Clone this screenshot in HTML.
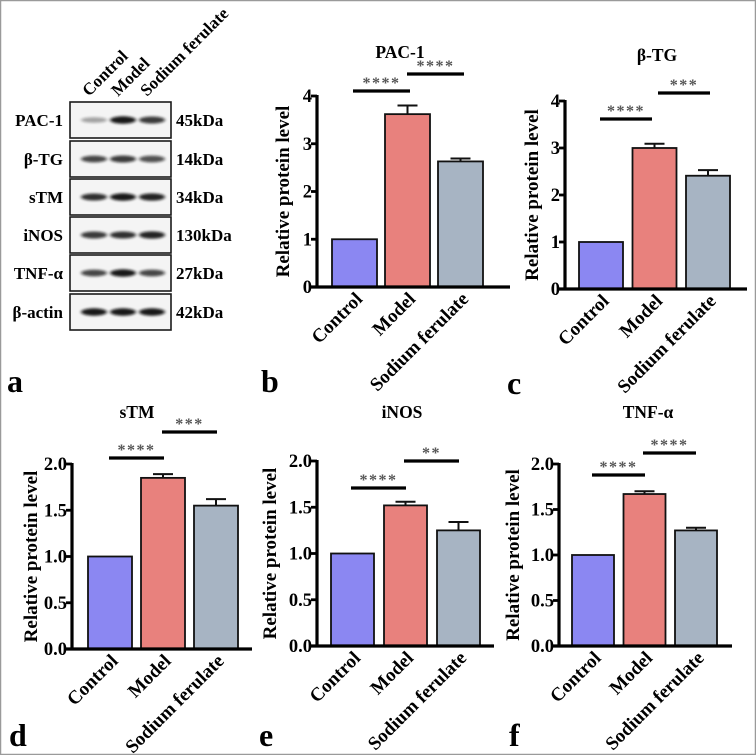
<!DOCTYPE html>
<html><head><meta charset="utf-8">
<style>
html,body{margin:0;padding:0;background:#fff;}
svg{display:block;}
text{font-family:"Liberation Serif",serif;font-weight:bold;}
</style></head>
<body>
<svg id="fig" width="756" height="755" viewBox="0 0 756 755" xmlns="http://www.w3.org/2000/svg">
<defs><filter id="blur" x="-20%" y="-100%" width="140%" height="300%"><feGaussianBlur stdDeviation="1.6 1.2"/></filter></defs>
<rect x="0.5" y="0.5" width="755" height="754" fill="#fff" stroke="#9a9a9a" stroke-width="1.5"/>
<g id="blot"></g>
<g id="charts"></g>
</svg>
<script>
const categories = ["Control","Model","Sodium ferulate"];
const blotProteins = ["PAC-1","β-TG","sTM","iNOS","TNF-α","β-actin"];
const blotSizes = ["45kDa","14kDa","34kDa","130kDa","27kDa","42kDa"];
const blotIntensity = [[0.35,0.95,0.8],[0.75,0.8,0.7],[0.85,0.95,0.9],[0.8,0.85,0.9],[0.75,0.95,0.75],[0.95,0.95,0.95]];
const titles = ["PAC-1","β-TG","sTM","iNOS","TNF-α"];
const valuesB = [1,3.62,2.63], errorsB = [0,0.18,0.06];
const valuesC = [1,3.0,2.41], errorsC = [0,0.09,0.12];
const valuesD = [1,1.85,1.55], errorsD = [0,0.04,0.07];
const valuesE = [1,1.52,1.25], errorsE = [0,0.04,0.09];
const valuesF = [1,1.67,1.27], errorsF = [0,0.03,0.03];
const ticks4 = [0,1,2,3,4];
const tickLabels4 = ["0","1","2","3","4"];
const ticks2 = [0,0.5,1,1.5,2];
const tickLabels2 = ["0.0","0.5","1.0","1.5","2.0"];
const sigB = ["****","****"], sigC = ["****","***"], sigD = ["****","***"], sigE = ["****","**"], sigF = ["****","****"];
const colors = ["#8b87f2","#e8817d","#a7b4c3"];

const NS = "http://www.w3.org/2000/svg";
function el(tag, attrs, parent, txt){
  const e = document.createElementNS(NS, tag);
  for (const k in attrs) e.setAttribute(k, attrs[k]);
  if (txt !== undefined) e.textContent = txt;
  parent.appendChild(e);
  return e;
}

// ---- Western blot ----
const blot = document.getElementById('blot');
const rowTops = [102,141,179,217,255,294];
const laneX = [95,124,153];
categories.forEach((c,i)=>{
  const t = el('text',{x:laneX[i]-6,y:97,'font-size':17,'text-anchor':'start',transform:`rotate(-45 ${laneX[i]-6} 97)`},blot,c);
  
  
});
blotProteins.forEach((p,r)=>{
  const top = rowTops[r], h = 36;
  const box = el('rect',{x:70,y:top,width:101,height:h,fill:'#f4f4f4',stroke:'#1a1a1a','stroke-width':1.6},blot);
  
  
  blotIntensity[r].forEach((v,i)=>{
    const b = el('ellipse',{cx:laneX[i]-1,cy:top+h/2,rx:13,ry:2.2+v*1.6,fill:'#111',opacity:v,filter:'url(#blur)'},blot);
    
    
  });
  const l = el('text',{x:63,y:top+h/2+6,'font-size':17,'text-anchor':'end'},blot,p);
  
  
  const s = el('text',{x:176,y:top+h/2+6,'font-size':17,'text-anchor':'start'},blot,blotSizes[r]);
  
  
});

// ---- Bar charts ----
const panels = [
  {label:'b',lx:261,ly:392,title:titles[0],tx:400,ty:58,ax:317,y0:287,yTop:96,ymax:4,xe:510,b0:332,bw:45,gap:53,vals:valuesB,errs:errorsB,ticks:ticks4,tl:tickLabels4,sig:sigB,s1:[91,353,410],s2:[74,407,464],yto:34},
  {label:'c',lx:507,ly:394,title:titles[1],tx:657,ty:61,ax:565,y0:289,yTop:101,ymax:4,xe:747,b0:579,bw:44,gap:53.5,vals:valuesC,errs:errorsC,ticks:ticks4,tl:tickLabels4,sig:sigC,s1:[119,600,652],s2:[93,658,710],yto:33},
  {label:'d',lx:9,ly:746,title:titles[2],tx:137,ty:418,ax:72,y0:649,yTop:464,ymax:2,xe:252,b0:88,bw:44,gap:53,vals:valuesD,errs:errorsD,ticks:ticks2,tl:tickLabels2,sig:sigD,s1:[458,109,164],s2:[432,162,217],yto:41},
  {label:'e',lx:259,ly:746,title:titles[3],tx:402,ty:418,ax:317,y0:646,yTop:461,ymax:2,xe:494,b0:331,bw:43,gap:53,vals:valuesE,errs:errorsE,ticks:ticks2,tl:tickLabels2,sig:sigE,s1:[488,351,406],s2:[461,404,459],yto:47},
  {label:'f',lx:509,ly:746,title:titles[4],tx:648,ty:418,ax:559,y0:646,yTop:464,ymax:2,xe:732,b0:572,bw:42,gap:51.5,vals:valuesF,errs:errorsF,ticks:ticks2,tl:tickLabels2,sig:sigF,s1:[475,592,645],s2:[453,643,696],yto:46}
];
const charts = document.getElementById('charts');
panels.forEach(P=>{
  const g = el('g',{},charts);
  
  
  const y = v => P.y0 - (v/P.ymax)*(P.y0-P.yTop);
  const t = el('text',{x:P.tx,y:P.ty,'font-size':17.5,'text-anchor':'middle'},g,P.title);
  
  
  P.vals.forEach((v,i)=>{
    const x = P.b0 + i*P.gap, cx = x + P.bw/2;
    if (P.errs[i] > 0){
      const eb = el('path',{d:`M${cx} ${y(v)} V${y(v+P.errs[i])} M${cx-10} ${y(v+P.errs[i])} H${cx+10}`,stroke:'#111','stroke-width':2,fill:'none'},g);
      
      
    }
    const r = el('rect',{x:x,y:y(v),width:P.bw,height:P.y0-y(v),fill:colors[i],stroke:'#111','stroke-width':1.8},g);
    
    
    const lx = cx+9, ly = P.y0+13;
    const lbl = el('text',{x:lx,y:ly,'font-size':19,'text-anchor':'end',transform:`rotate(-45 ${lx} ${ly})`},g,categories[i]);
    
    
  });
  const ya = el('path',{d:`M${P.ax} ${P.yTop-1} V${P.y0+1.5}`,stroke:'#000','stroke-width':3.2,fill:'none'},g);
  
  
  const xa = el('path',{d:`M${P.ax-6} ${P.y0} H${P.xe}`,stroke:'#000','stroke-width':3.2,fill:'none'},g);
  
  
  P.ticks.forEach((tv,k)=>{
    const tk = el('path',{d:`M${P.ax-6} ${y(tv)} H${P.ax}`,stroke:'#000','stroke-width':2.8},g);
    
    
    const tl = el('text',{x:P.ax-5,y:y(tv)+6,'font-size':18.5,'text-anchor':'end'},g,P.tl[k]);
    
    
  });
  const tx = P.ax - P.yto + 6, ty = (P.y0+P.yTop)/2;
  const yt = el('text',{x:tx,y:ty,'font-size':19,'text-anchor':'middle',transform:`rotate(-90 ${tx} ${ty})`},g,'Relative protein level');
  
  
  [P.s1,P.s2].forEach((s,k)=>{
    const ln = el('path',{d:`M${s[1]} ${s[0]} H${s[2]}`,stroke:'#000','stroke-width':3.2},g);
    
    
    const st = el('text',{x:(s[1]+s[2])/2,y:s[0]-3,'font-size':16,'font-weight':'normal','text-anchor':'middle',fill:'#555','letter-spacing':'1.5'},g,P.sig[k]);
    
    
  });
  const pl = el('text',{x:P.lx,y:P.ly,'font-size':32,'text-anchor':'start'},g,P.label);
  
  
});
const la = el('text',{x:7,y:392,'font-size':32},charts,'a');


</script>
</body></html>
